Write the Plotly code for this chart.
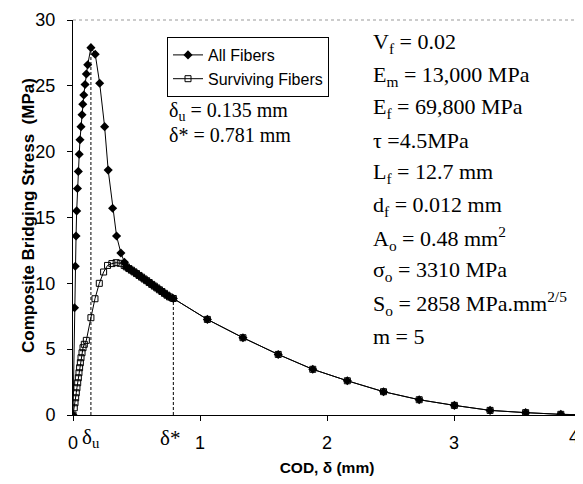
import plotly.graph_objects as go

# ---------------- data ----------------
all_x = [0, 0.012, 0.018, 0.024, 0.029, 0.035, 0.042, 0.049, 0.055, 0.063, 0.071, 0.077,
         0.085, 0.095, 0.105, 0.116, 0.141, 0.175, 0.210, 0.249, 0.277, 0.312, 0.343,
         0.377, 0.405]
all_y = [0, 8.15, 11.3, 13.6, 15.5, 17.2, 18.5, 19.8, 20.9, 21.9, 22.8, 23.6,
         24.3, 25.1, 25.9, 26.6, 27.9, 27.4, 25.2, 21.9, 18.6, 15.7, 13.6,
         12.3, 11.6]

surv_x = [0, 0.010, 0.016, 0.021, 0.026, 0.031, 0.037, 0.042, 0.047, 0.052, 0.058, 0.063,
          0.071, 0.079, 0.089, 0.105, 0.141, 0.173, 0.207, 0.241, 0.272, 0.306, 0.340,
          0.372, 0.403]
surv_y = [0, 0.55, 0.93, 1.31, 1.69, 2.07, 2.45, 2.83, 3.21, 3.59, 3.97, 4.35,
          4.73, 5.11, 5.37, 5.67, 7.39, 8.83, 10.0, 10.86, 11.36, 11.5, 11.57,
          11.52, 11.36]

# shared part (where both curves coincide)
shared_x = [0.42, 0.44, 0.46, 0.48, 0.50, 0.52, 0.54, 0.56, 0.58, 0.60, 0.62, 0.64,
            0.66, 0.68, 0.70, 0.72, 0.74, 0.76, 0.79, 1.058, 1.338, 1.616, 1.888,
            2.16, 2.445, 2.726, 3.003, 3.284, 3.564, 3.841, 4.12]
shared_y = [11.25, 11.12, 11.0, 10.87, 10.74, 10.6, 10.47, 10.33, 10.2, 10.06, 9.92, 9.79,
            9.65, 9.51, 9.38, 9.24, 9.10, 8.97, 8.85, 7.26, 5.87, 4.6, 3.47,
            2.6, 1.77, 1.16, 0.73, 0.35, 0.18, 0.05, 0.0]

delta_u_x, delta_u_y = 0.141, 27.9
delta_star_x, delta_star_y = 0.79, 8.85

x_tickvals = [0, 1, 2, 3, 4]
x_ticktext = ["0", "1", "2", "3", "4"]
y_tickvals = [0, 5, 10, 15, 20, 25, 30]

param_lines = [
    "V<sub>f</sub> = 0.02",
    "E<sub>m</sub> = 13,000 MPa",
    "E<sub>f</sub> = 69,800 MPa",
    "τ =4.5MPa",
    "L<sub>f</sub> = 12.7 mm",
    "d<sub>f</sub> = 0.012 mm",
    "A<sub>o</sub> = 0.48 mm<sup>2</sup>",
    "σ<sub>o</sub> = 3310 MPa",
    "S<sub>o</sub> = 2858 MPa.mm<sup>2/5</sup>",
    "m = 5",
]
delta_lines = ["δ<sub>u</sub> = 0.135 mm", "δ* = 0.781 mm"]

x_title = "<b>COD, δ (mm)</b>"
y_title = "<b>Composite Bridging Stress  (MPa)</b>"

# ---------------- layout geometry ----------------
# The page body has a default 8px margin, so the figure is made 8px smaller
# and all absolute pixel positions below refer to the browser window.
OFF = 8
W, H = 583 - OFF, 484 - OFF
PLOT_L, PLOT_R, PLOT_T, PLOT_B = 73, 581, 20, 415   # window pixels
L, R = PLOT_L - OFF, W - (PLOT_R - OFF)
T, B = PLOT_T - OFF, H - (PLOT_B - OFF)
PW, PH = PLOT_R - PLOT_L, PLOT_B - PLOT_T


def px_x(px):
    return (px - PLOT_L) / PW


def px_y(py):
    return (PLOT_B - py) / PH


SERIF = "Liberation Serif, Times New Roman, serif"
SANS = "Liberation Sans, Arial, sans-serif"

fig = go.Figure()

fig.add_trace(go.Scatter(
    x=surv_x + shared_x, y=surv_y + shared_y, mode="lines+markers",
    name="Surviving Fibers", legendrank=2,
    line=dict(color="black", width=1),
    marker=dict(symbol="square-open", size=6, color="black", line=dict(width=1)),
))
fig.add_trace(go.Scatter(
    x=all_x + shared_x, y=all_y + shared_y, mode="lines+markers",
    name="All Fibers", legendrank=1,
    line=dict(color="black", width=1),
    marker=dict(symbol="diamond", size=7, color="black"),
))

# dashed marker lines at delta_u and delta_star
for xv, yv in [(delta_u_x, delta_u_y), (delta_star_x, delta_star_y)]:
    fig.add_shape(type="line", xref="x", yref="y", x0=xv, x1=xv, y0=0, y1=yv,
                  line=dict(color="black", width=1, dash="3px,2px"), layer="below")

# dotted top and right frame
fig.add_shape(type="line", xref="paper", yref="paper", x0=0, x1=1, y0=1, y1=1,
              line=dict(color="#999999", width=1, dash="dot"))
fig.add_shape(type="line", xref="paper", yref="paper", x0=1, x1=1, y0=0, y1=1,
              line=dict(color="#999999", width=1, dash="dot"))

annotations = []
for i, txt in enumerate(param_lines):
    py = 43 + i * 32.6
    annotations.append(dict(x=px_x(371), y=px_y(py), xref="paper", yref="paper",
                            text=txt, showarrow=False, xanchor="left", yanchor="middle",
                            font=dict(family=SERIF, size=22, color="black")))
for i, txt in enumerate(delta_lines):
    py = 111 + i * 24
    annotations.append(dict(x=px_x(167), y=px_y(py), xref="paper", yref="paper",
                            text=txt, showarrow=False, xanchor="left", yanchor="middle",
                            font=dict(family=SERIF, size=20, color="black")))
annotations.append(dict(x=delta_u_x, y=px_y(438), xref="x", yref="paper",
                        text="δ<sub>u</sub>", showarrow=False, xanchor="center",
                        yanchor="middle", font=dict(family=SERIF, size=21, color="black")))
annotations.append(dict(x=delta_star_x - 0.03, y=px_y(438), xref="x", yref="paper",
                        text="δ*", showarrow=False, xanchor="center",
                        yanchor="middle", font=dict(family=SERIF, size=21, color="black")))
# last x tick label, sitting at the right edge
annotations.append(dict(x=x_tickvals[-1], y=px_y(437), xref="x", yref="paper",
                        text=x_ticktext[-1], showarrow=False, xanchor="right",
                        yanchor="middle", font=dict(family=SANS, size=18, color="black")))
# y axis title
annotations.append(dict(x=px_x(28), y=px_y(216), xref="paper", yref="paper",
                        text=y_title, showarrow=False, textangle=-90,
                        xanchor="center", yanchor="middle",
                        font=dict(family=SANS, size=17, color="black")))

fig.update_layout(
    width=W, height=H,
    margin=dict(l=L, r=R, t=T, b=B, pad=0, autoexpand=False),
    paper_bgcolor="white", plot_bgcolor="white",
    showlegend=True,
    legend=dict(x=px_x(167), y=px_y(37), xanchor="left", yanchor="top",
                bgcolor="white", bordercolor="black", borderwidth=1,
                font=dict(family=SANS, size=16, color="black"),
                itemwidth=30, tracegroupgap=0),
    annotations=annotations,
    xaxis=dict(range=[0, 4], tickvals=x_tickvals, ticktext=x_ticktext,
               showgrid=False, zeroline=False, showline=True, linecolor="black",
               linewidth=1, ticks="outside", ticklen=5, tickcolor="black",
               ticklabelstandoff=6,
               tickfont=dict(family=SANS, size=18, color="black"),
               title=dict(text=x_title, standoff=10,
                          font=dict(family=SANS, size=15.5, color="black"))),
    yaxis=dict(range=[0, 30], tickvals=y_tickvals,
               showgrid=False, zeroline=False, showline=True, linecolor="black",
               linewidth=1, ticks="outside", ticklen=5, tickcolor="black",
               ticklabelstandoff=8,
               tickfont=dict(family=SANS, size=18, color="black")),
)

fig.write_html("out.html")
